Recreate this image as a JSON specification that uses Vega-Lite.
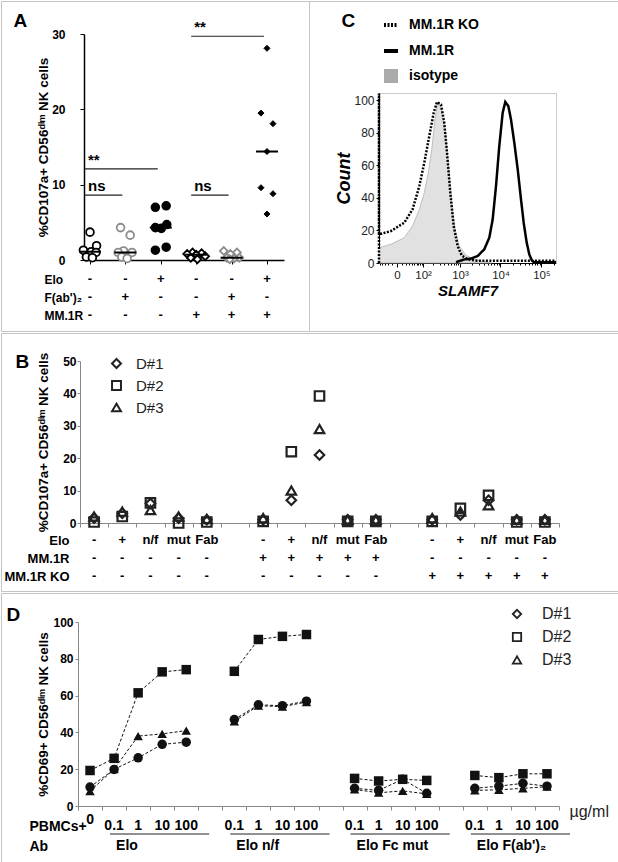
{
"$schema": "https://vega.github.io/schema/vega-lite/v6.json",
"background": "white",
"padding": 0,
"spacing": 0,
"bounds": "full",
"resolve": {"scale": {"shape": "independent", "fill": "independent", "stroke": "independent", "strokeDash": "independent"}, "legend": {"shape": "independent", "strokeDash": "independent"}},
"config": {
  "font": "Liberation Sans",
  "view": {"stroke": "#c4c4c4", "strokeWidth": 1},
  "axis": {"grid": false, "labelFont": "Liberation Sans", "titleFont": "Liberation Sans", "labelOverlap": false, "labelFlush": false, "labelColor": "black", "titleColor": "black"},
  "legend": {"labelFont": "Liberation Sans"},
  "concat": {"spacing": 0}
},
"datasets": {
  "A_pts": [
    {"grp":"1","val":3.7,"dodge":0},{"grp":"1","val":1.9,"dodge":1.1},{"grp":"1","val":1.3,"dodge":-1.1},{"grp":"1","val":1.1,"dodge":0.2},{"grp":"1","val":1.0,"dodge":1.0},{"grp":"1","val":0.4,"dodge":-0.6},{"grp":"1","val":0.3,"dodge":0.4},
    {"grp":"2","val":4.3,"dodge":-0.8},{"grp":"2","val":3.3,"dodge":0.8},{"grp":"2","val":1.2,"dodge":-0.3},{"grp":"2","val":1.0,"dodge":-1.2},{"grp":"2","val":1.0,"dodge":1.1},{"grp":"2","val":0.4,"dodge":-0.6},{"grp":"2","val":0.2,"dodge":0.3},
    {"grp":"3","val":7.0,"dodge":-0.9},{"grp":"3","val":7.2,"dodge":0.9},{"grp":"3","val":4.3,"dodge":-0.9},{"grp":"3","val":4.2,"dodge":0.1},{"grp":"3","val":4.7,"dodge":1.0},{"grp":"3","val":1.3,"dodge":-0.9},{"grp":"3","val":1.7,"dodge":0.9},
    {"grp":"4","val":1.0,"dodge":-0.6},{"grp":"4","val":0.9,"dodge":0.9},{"grp":"4","val":0.8,"dodge":-1.5},{"grp":"4","val":0.7,"dodge":0},{"grp":"4","val":0.5,"dodge":1.5},{"grp":"4","val":0.3,"dodge":-0.9},{"grp":"4","val":0.1,"dodge":0.2},
    {"grp":"5","val":1.2,"dodge":-1.3},{"grp":"5","val":1.0,"dodge":0.9},{"grp":"5","val":0.8,"dodge":-0.2},{"grp":"5","val":0.3,"dodge":1.3},{"grp":"5","val":0.3,"dodge":-0.8},{"grp":"5","val":0.2,"dodge":0.4},{"grp":"5","val":0.1,"dodge":-0.3}
  ],
  "A_g6": [
    {"grp":"6","val":28.1,"dodge":0},{"grp":"6","val":19.5,"dodge":-1},{"grp":"6","val":18.1,"dodge":1},{"grp":"6","val":14.4,"dodge":0},{"grp":"6","val":9.6,"dodge":-1},{"grp":"6","val":8.8,"dodge":1},{"grp":"6","val":6.1,"dodge":0}
  ],
  "A_med": [
    {"grp":"1","val":1.1},{"grp":"2","val":1.0},{"grp":"3","val":4.3},{"grp":"4","val":0.7},{"grp":"5","val":0.3},{"grp":"6","val":14.4}
  ],
  "A_sig": [
    {"from":"1","to":"3","y":12.1,"label":"**"},
    {"from":"1","to":"2","y":8.6,"label":"ns"},
    {"from":"4","to":"5","y":8.6,"label":"ns"},
    {"from":"4","to":"6","y":29.7,"label":"**"}
  ],
  "A_tab": [
    {"grp":"1","row":"Elo","sym":"-"},{"grp":"2","row":"Elo","sym":"-"},{"grp":"3","row":"Elo","sym":"+"},{"grp":"4","row":"Elo","sym":"-"},{"grp":"5","row":"Elo","sym":"-"},{"grp":"6","row":"Elo","sym":"+"},
    {"grp":"1","row":"F(ab')₂","sym":"-"},{"grp":"2","row":"F(ab')₂","sym":"+"},{"grp":"3","row":"F(ab')₂","sym":"-"},{"grp":"4","row":"F(ab')₂","sym":"-"},{"grp":"5","row":"F(ab')₂","sym":"+"},{"grp":"6","row":"F(ab')₂","sym":"-"},
    {"grp":"1","row":"MM.1R","sym":"-"},{"grp":"2","row":"MM.1R","sym":"-"},{"grp":"3","row":"MM.1R","sym":"-"},{"grp":"4","row":"MM.1R","sym":"+"},{"grp":"5","row":"MM.1R","sym":"+"},{"grp":"6","row":"MM.1R","sym":"+"}
  ],
  "C_iso": [
    {"series":"isotype","x":-52.4,"y":9.4},{"series":"isotype","x":-12,"y":11.5},{"series":"isotype","x":15,"y":15.5},{"series":"isotype","x":42,"y":22.7},{"series":"isotype","x":75,"y":32.9},{"series":"isotype","x":109,"y":43.1},{"series":"isotype","x":144,"y":55.4},{"series":"isotype","x":181,"y":69.7},{"series":"isotype","x":224,"y":88.1},{"series":"isotype","x":265,"y":98.3},{"series":"isotype","x":325,"y":95.3},{"series":"isotype","x":415,"y":82},{"series":"isotype","x":505,"y":61.5},{"series":"isotype","x":618,"y":37},{"series":"isotype","x":750,"y":20.7},{"series":"isotype","x":963,"y":10.4},{"series":"isotype","x":1416,"y":4.7},{"series":"isotype","x":2274,"y":2.2},{"series":"isotype","x":4017,"y":1},{"series":"isotype","x":6000,"y":0}
  ],
  "C_ko": [
    {"series":"MM.1R KO","ord":1,"x":-52.4,"y":0},{"series":"MM.1R KO","ord":2,"x":-52.4,"y":104},{"series":"MM.1R KO","ord":3,"x":-52.4,"y":17.6},{"series":"MM.1R KO","ord":4,"x":-12,"y":19.6},{"series":"MM.1R KO","ord":5,"x":15,"y":24.7},{"series":"MM.1R KO","ord":6,"x":42,"y":32.9},{"series":"MM.1R KO","ord":7,"x":75,"y":47.2},{"series":"MM.1R KO","ord":8,"x":109,"y":61.5},{"series":"MM.1R KO","ord":9,"x":154,"y":77.9},{"series":"MM.1R KO","ord":10,"x":206,"y":92.2},{"series":"MM.1R KO","ord":11,"x":254,"y":98.8},{"series":"MM.1R KO","ord":12,"x":325,"y":97.3},{"series":"MM.1R KO","ord":13,"x":397,"y":86},{"series":"MM.1R KO","ord":14,"x":468,"y":67.7},{"series":"MM.1R KO","ord":15,"x":569,"y":43.1},{"series":"MM.1R KO","ord":16,"x":694,"y":22.7},{"series":"MM.1R KO","ord":17,"x":876,"y":10.4},{"series":"MM.1R KO","ord":18,"x":1105,"y":4.7},{"series":"MM.1R KO","ord":19,"x":1560,"y":2.2},{"series":"MM.1R KO","ord":20,"x":2757,"y":1.4},{"series":"MM.1R KO","ord":21,"x":226500,"y":1.4}
  ],
  "C_mm": [
    {"series":"MM.1R","x":795,"y":0.5},{"series":"MM.1R","x":1283,"y":2.2},{"series":"MM.1R","x":1884,"y":2.7},{"series":"MM.1R","x":2757,"y":4.3},{"series":"MM.1R","x":4008,"y":8.4},{"series":"MM.1R","x":5316,"y":15.5},{"series":"MM.1R","x":6444,"y":26.8},{"series":"MM.1R","x":7770,"y":47.2},{"series":"MM.1R","x":9348,"y":71.8},{"series":"MM.1R","x":11322,"y":92.2},{"series":"MM.1R","x":13095,"y":98.8},{"series":"MM.1R","x":15534,"y":96.3},{"series":"MM.1R","x":18048,"y":88.1},{"series":"MM.1R","x":21753,"y":73.8},{"series":"MM.1R","x":26340,"y":57.5},{"series":"MM.1R","x":31680,"y":39.1},{"series":"MM.1R","x":36870,"y":24.7},{"series":"MM.1R","x":43650,"y":12.5},{"series":"MM.1R","x":50550,"y":5.3},{"series":"MM.1R","x":57810,"y":1.8},{"series":"MM.1R","x":65000,"y":0.5},{"series":"MM.1R","x":226500,"y":0.5}
  ],
  "B_pts": [
    {"slot":"s01","donor":"D#1","val":1.5},{"slot":"s01","donor":"D#2","val":0.3},{"slot":"s01","donor":"D#3","val":2.0},
    {"slot":"s02","donor":"D#1","val":3.0},{"slot":"s02","donor":"D#2","val":2.0},{"slot":"s02","donor":"D#3","val":3.5},
    {"slot":"s03","donor":"D#1","val":6.0},{"slot":"s03","donor":"D#2","val":6.2},{"slot":"s03","donor":"D#3","val":4.0},
    {"slot":"s04","donor":"D#1","val":1.5},{"slot":"s04","donor":"D#2","val":0.0},{"slot":"s04","donor":"D#3","val":2.0},
    {"slot":"s05","donor":"D#1","val":1.0},{"slot":"s05","donor":"D#2","val":0.3},{"slot":"s05","donor":"D#3","val":1.2},
    {"slot":"s07","donor":"D#1","val":1.0},{"slot":"s07","donor":"D#2","val":0.5},{"slot":"s07","donor":"D#3","val":1.5},
    {"slot":"s08","donor":"D#1","val":7.0},{"slot":"s08","donor":"D#2","val":22.0},{"slot":"s08","donor":"D#3","val":10.0},
    {"slot":"s09","donor":"D#1","val":21.0},{"slot":"s09","donor":"D#2","val":39.2},{"slot":"s09","donor":"D#3","val":29.0},
    {"slot":"s10","donor":"D#1","val":1.0},{"slot":"s10","donor":"D#2","val":0.5},{"slot":"s10","donor":"D#3","val":1.0},
    {"slot":"s11","donor":"D#1","val":1.0},{"slot":"s11","donor":"D#2","val":0.5},{"slot":"s11","donor":"D#3","val":1.0},
    {"slot":"s13","donor":"D#1","val":1.0},{"slot":"s13","donor":"D#2","val":0.5},{"slot":"s13","donor":"D#3","val":1.5},
    {"slot":"s14","donor":"D#1","val":2.5},{"slot":"s14","donor":"D#2","val":4.5},{"slot":"s14","donor":"D#3","val":3.5},
    {"slot":"s15","donor":"D#1","val":7.0},{"slot":"s15","donor":"D#2","val":8.5},{"slot":"s15","donor":"D#3","val":5.5},
    {"slot":"s16","donor":"D#1","val":1.0},{"slot":"s16","donor":"D#2","val":0.3},{"slot":"s16","donor":"D#3","val":1.0},
    {"slot":"s17","donor":"D#1","val":1.0},{"slot":"s17","donor":"D#2","val":0.3},{"slot":"s17","donor":"D#3","val":1.0}
  ],
  "B_tab": [
    {"slot":"s01","row":"Elo","sym":"-"},{"slot":"s02","row":"Elo","sym":"+"},{"slot":"s03","row":"Elo","sym":"n/f"},{"slot":"s04","row":"Elo","sym":"mut"},{"slot":"s05","row":"Elo","sym":"Fab"},
    {"slot":"s07","row":"Elo","sym":"-"},{"slot":"s08","row":"Elo","sym":"+"},{"slot":"s09","row":"Elo","sym":"n/f"},{"slot":"s10","row":"Elo","sym":"mut"},{"slot":"s11","row":"Elo","sym":"Fab"},
    {"slot":"s13","row":"Elo","sym":"-"},{"slot":"s14","row":"Elo","sym":"+"},{"slot":"s15","row":"Elo","sym":"n/f"},{"slot":"s16","row":"Elo","sym":"mut"},{"slot":"s17","row":"Elo","sym":"Fab"},
    {"slot":"s01","row":"MM.1R","sym":"-"},{"slot":"s02","row":"MM.1R","sym":"-"},{"slot":"s03","row":"MM.1R","sym":"-"},{"slot":"s04","row":"MM.1R","sym":"-"},{"slot":"s05","row":"MM.1R","sym":"-"},
    {"slot":"s07","row":"MM.1R","sym":"+"},{"slot":"s08","row":"MM.1R","sym":"+"},{"slot":"s09","row":"MM.1R","sym":"+"},{"slot":"s10","row":"MM.1R","sym":"+"},{"slot":"s11","row":"MM.1R","sym":"+"},
    {"slot":"s13","row":"MM.1R","sym":"-"},{"slot":"s14","row":"MM.1R","sym":"-"},{"slot":"s15","row":"MM.1R","sym":"-"},{"slot":"s16","row":"MM.1R","sym":"-"},{"slot":"s17","row":"MM.1R","sym":"-"},
    {"slot":"s01","row":"MM.1R KO","sym":"-"},{"slot":"s02","row":"MM.1R KO","sym":"-"},{"slot":"s03","row":"MM.1R KO","sym":"-"},{"slot":"s04","row":"MM.1R KO","sym":"-"},{"slot":"s05","row":"MM.1R KO","sym":"-"},
    {"slot":"s07","row":"MM.1R KO","sym":"-"},{"slot":"s08","row":"MM.1R KO","sym":"-"},{"slot":"s09","row":"MM.1R KO","sym":"-"},{"slot":"s10","row":"MM.1R KO","sym":"-"},{"slot":"s11","row":"MM.1R KO","sym":"-"},
    {"slot":"s13","row":"MM.1R KO","sym":"+"},{"slot":"s14","row":"MM.1R KO","sym":"+"},{"slot":"s15","row":"MM.1R KO","sym":"+"},{"slot":"s16","row":"MM.1R KO","sym":"+"},{"slot":"s17","row":"MM.1R KO","sym":"+"}
  ],
  "D_pts": [
    {"slot":"s00","seg":"Elo","donor":"D#1","val":10.3},{"slot":"s00","seg":"Elo","donor":"D#2","val":19.3},{"slot":"s00","seg":"Elo","donor":"D#3","val":8.1},
    {"slot":"s01","seg":"Elo","donor":"D#1","val":19.9},{"slot":"s01","seg":"Elo","donor":"D#2","val":25.9},{"slot":"s01","seg":"Elo","donor":"D#3","val":20.0},
    {"slot":"s02","seg":"Elo","donor":"D#1","val":26.2},{"slot":"s02","seg":"Elo","donor":"D#2","val":61.5},{"slot":"s02","seg":"Elo","donor":"D#3","val":38.0},
    {"slot":"s03","seg":"Elo","donor":"D#1","val":33.5},{"slot":"s03","seg":"Elo","donor":"D#2","val":72.9},{"slot":"s03","seg":"Elo","donor":"D#3","val":39.2},
    {"slot":"s04","seg":"Elo","donor":"D#1","val":34.7},{"slot":"s04","seg":"Elo","donor":"D#2","val":74.1},{"slot":"s04","seg":"Elo","donor":"D#3","val":41.0},
    {"slot":"s06","seg":"nf","donor":"D#1","val":47.0},{"slot":"s06","seg":"nf","donor":"D#2","val":73.2},{"slot":"s06","seg":"nf","donor":"D#3","val":46.0},
    {"slot":"s07","seg":"nf","donor":"D#1","val":55.0},{"slot":"s07","seg":"nf","donor":"D#2","val":90.5},{"slot":"s07","seg":"nf","donor":"D#3","val":54.5},
    {"slot":"s08","seg":"nf","donor":"D#1","val":54.5},{"slot":"s08","seg":"nf","donor":"D#2","val":92.2},{"slot":"s08","seg":"nf","donor":"D#3","val":54.0},
    {"slot":"s09","seg":"nf","donor":"D#1","val":57.0},{"slot":"s09","seg":"nf","donor":"D#2","val":93.2},{"slot":"s09","seg":"nf","donor":"D#3","val":56.5},
    {"slot":"s11","seg":"fc","donor":"D#1","val":9.6},{"slot":"s11","seg":"fc","donor":"D#2","val":15.0},{"slot":"s11","seg":"fc","donor":"D#3","val":9.0},
    {"slot":"s12","seg":"fc","donor":"D#1","val":8.5},{"slot":"s12","seg":"fc","donor":"D#2","val":13.6},{"slot":"s12","seg":"fc","donor":"D#3","val":7.2},
    {"slot":"s13","seg":"fc","donor":"D#1","val":14.5},{"slot":"s13","seg":"fc","donor":"D#2","val":14.5},{"slot":"s13","seg":"fc","donor":"D#3","val":8.2},
    {"slot":"s14","seg":"fc","donor":"D#1","val":6.9},{"slot":"s14","seg":"fc","donor":"D#2","val":13.9},{"slot":"s14","seg":"fc","donor":"D#3","val":6.6},
    {"slot":"s16","seg":"fab","donor":"D#1","val":9.6},{"slot":"s16","seg":"fab","donor":"D#2","val":16.6},{"slot":"s16","seg":"fab","donor":"D#3","val":8.5},
    {"slot":"s17","seg":"fab","donor":"D#1","val":10.8},{"slot":"s17","seg":"fab","donor":"D#2","val":15.4},{"slot":"s17","seg":"fab","donor":"D#3","val":8.8},
    {"slot":"s18","seg":"fab","donor":"D#1","val":12.3},{"slot":"s18","seg":"fab","donor":"D#2","val":17.5},{"slot":"s18","seg":"fab","donor":"D#3","val":9.6},
    {"slot":"s19","seg":"fab","donor":"D#1","val":10.8},{"slot":"s19","seg":"fab","donor":"D#2","val":17.5},{"slot":"s19","seg":"fab","donor":"D#3","val":10.5}
  ],
  "D_conc": [
    {"slot":"s01","row":"PBMCs+","label":"0.1"},{"slot":"s02","row":"PBMCs+","label":"1"},{"slot":"s03","row":"PBMCs+","label":"10"},{"slot":"s04","row":"PBMCs+","label":"100"},
    {"slot":"s06","row":"PBMCs+","label":"0.1"},{"slot":"s07","row":"PBMCs+","label":"1"},{"slot":"s08","row":"PBMCs+","label":"10"},{"slot":"s09","row":"PBMCs+","label":"100"},
    {"slot":"s11","row":"PBMCs+","label":"0.1"},{"slot":"s12","row":"PBMCs+","label":"1"},{"slot":"s13","row":"PBMCs+","label":"10"},{"slot":"s14","row":"PBMCs+","label":"100"},
    {"slot":"s16","row":"PBMCs+","label":"0.1"},{"slot":"s17","row":"PBMCs+","label":"1"},{"slot":"s18","row":"PBMCs+","label":"10"},{"slot":"s19","row":"PBMCs+","label":"100"}
  ],
  "D_zero": [{"slot":"s00","row":"PBMCs+","label":"0"}],
  "D_grp": [
    {"from":"s01","to":"s04","row":"Ab","label":"Elo"},
    {"from":"s06","to":"s09","row":"Ab","label":"Elo n/f"},
    {"from":"s11","to":"s14","row":"Ab","label":"Elo Fc mut"},
    {"from":"s16","to":"s19","row":"Ab","label":"Elo F(ab')₂"}
  ]
},
"vconcat": [
{
"hconcat": [
{
  "width": 308, "height": 330,
  "resolve": {"scale": {"y": "independent"}},
  "layer": [
    {
      "data": {"name": "A_pts"},
      "mark": {"type": "point", "filled": true, "opacity": 1, "strokeWidth": 1.8, "size": 60},
      "encoding": {
        "x": {"field": "grp", "type": "nominal", "scale": {"type": "point", "domain": ["1","2","3","4","5","6"], "range": [83, 283], "padding": 0.325, "align": 0.26},
              "axis": {"orient": "bottom", "offset": -71, "labels": false, "ticks": true, "tickSize": 4, "domainColor": "black", "tickColor": "black", "domainWidth": 1.5, "title": null}},
        "xOffset": {"field": "dodge", "type": "quantitative", "scale": {"domain": [-1, 1], "range": [-6, 6]}},
        "y": {"field": "val", "type": "quantitative", "scale": {"domain": [0, 30], "range": [259, 33], "nice": false, "zero": false},
              "axis": {"orient": "left", "offset": -83, "values": [0, 10, 20, 30], "tickSize": 4, "labelPadding": 15, "labelFontSize": 12, "labelFontWeight": "bold", "domainColor": "black", "tickColor": "black", "domainWidth": 1.5,
                       "title": "%CD107a+ CD56ᵈⁱᵐ NK cells", "titleFontSize": 13.5, "titleFontWeight": "bold", "titleX": -41, "titleBaseline": "middle"}},
        "shape": {"field": "grp", "type": "nominal", "scale": {"domain": ["1","2","3","4","5","6"], "range": ["circle","circle","circle","diamond","diamond","diamond"]}, "legend": null},
        "stroke": {"field": "grp", "type": "nominal", "scale": {"domain": ["1","2","3","4","5","6"], "range": ["#000000","#8c8c8c","#000000","#000000","#8c8c8c","#000000"]}, "legend": null},
        "fill": {"field": "grp", "type": "nominal", "scale": {"domain": ["1","2","3","4","5","6"], "range": ["#ffffff","#ffffff","#000000","#ffffff","#ffffff","#000000"]}, "legend": null}
      }
    },
    {
      "data": {"name": "A_g6"},
      "mark": {"type": "point", "filled": true, "opacity": 1, "strokeWidth": 1, "size": 36},
      "encoding": {
        "x": {"field": "grp", "type": "nominal", "scale": {"type": "point", "domain": ["1","2","3","4","5","6"], "range": [83, 283], "padding": 0.325, "align": 0.26}, "axis": null},
        "xOffset": {"field": "dodge", "type": "quantitative", "scale": {"domain": [-1, 1], "range": [-6, 6]}},
        "y": {"field": "val", "type": "quantitative", "scale": {"domain": [0, 30], "range": [259, 33], "nice": false, "zero": false}, "axis": null},
        "shape": {"field": "grp", "type": "nominal", "scale": {"domain": ["1","2","3","4","5","6"], "range": ["circle","circle","circle","diamond","diamond","diamond"]}, "legend": null},
        "stroke": {"field": "grp", "type": "nominal", "scale": {"domain": ["1","2","3","4","5","6"], "range": ["#000000","#8c8c8c","#000000","#000000","#8c8c8c","#000000"]}, "legend": null},
        "fill": {"field": "grp", "type": "nominal", "scale": {"domain": ["1","2","3","4","5","6"], "range": ["#ffffff","#ffffff","#000000","#ffffff","#ffffff","#000000"]}, "legend": null}
      }
    },
    {
      "data": {"name": "A_med"},
      "mark": {"type": "tick", "color": "black", "thickness": 2, "size": 22, "opacity": 1},
      "encoding": {
        "x": {"field": "grp", "type": "nominal", "scale": {"type": "point", "domain": ["1","2","3","4","5","6"], "range": [83, 283], "padding": 0.325, "align": 0.26}, "axis": null},
        "y": {"field": "val", "type": "quantitative", "scale": {"domain": [0, 30], "range": [259, 33], "nice": false, "zero": false}, "axis": null}
      }
    },
    {
      "data": {"name": "A_sig"},
      "mark": {"type": "rule", "color": "#222222", "strokeWidth": 1.2, "xOffset": -5, "x2Offset": -3},
      "encoding": {
        "x": {"field": "from", "type": "nominal", "scale": {"type": "point", "domain": ["1","2","3","4","5","6"], "range": [83, 283], "padding": 0.325, "align": 0.26}, "axis": null},
        "x2": {"field": "to"},
        "y": {"field": "y", "type": "quantitative", "scale": {"domain": [0, 30], "range": [259, 33], "nice": false, "zero": false}, "axis": null}
      }
    },
    {
      "data": {"name": "A_sig"},
      "mark": {"type": "text", "align": "left", "baseline": "alphabetic", "dx": -2, "dy": -4, "fontSize": 15, "fontWeight": "bold", "color": "black"},
      "encoding": {
        "x": {"field": "from", "type": "nominal", "scale": {"type": "point", "domain": ["1","2","3","4","5","6"], "range": [83, 283], "padding": 0.325, "align": 0.26}, "axis": null},
        "y": {"field": "y", "type": "quantitative", "scale": {"domain": [0, 30], "range": [259, 33], "nice": false, "zero": false}, "axis": null},
        "text": {"field": "label"}
      }
    },
    {
      "data": {"name": "A_tab"},
      "mark": {"type": "text", "fontSize": 13, "fontWeight": "bold", "color": "black", "baseline": "middle", "align": "center"},
      "encoding": {
        "x": {"field": "grp", "type": "nominal", "scale": {"type": "point", "domain": ["1","2","3","4","5","6"], "range": [83, 283], "padding": 0.325, "align": 0.26},
              "axis": {"orient": "top", "offset": 0, "labels": false, "ticks": false, "domain": false, "title": "A", "titleX": 12, "titleY": 25, "titleAlign": "left", "titleAnchor": "start", "titleBaseline": "alphabetic", "titleFontSize": 19, "titleFontWeight": "bold", "titleColor": "black"}},
        "y": {"field": "row", "type": "nominal", "scale": {"type": "point", "domain": ["Elo", "F(ab')₂", "MM.1R"], "range": [278, 314], "padding": 0},
              "axis": {"orient": "left", "offset": -43, "labelAlign": "left", "labelPadding": 0, "ticks": false, "tickSize": 0, "domain": false, "title": null, "labelFontSize": 12, "labelFontWeight": "bold", "labelBaseline": "middle"}},
        "text": {"field": "sym"}
      }
    }
  ]
},
{
  "width": 310, "height": 330,
  "resolve": {"axis": {"x": "independent", "y": "independent"}},
  "layer": [
    {
      "data": {"name": "C_iso"},
      "mark": {"type": "area", "fill": "#e1e1e1", "stroke": "#b3b3b3", "strokeWidth": 0.8, "opacity": 1},
      "encoding": {
        "x": {"field": "x", "type": "quantitative", "scale": {"type": "symlog", "constant": 30, "domain": [-52.4, 226500], "range": [70, 247], "nice": false, "zero": false},
              "axis": {"orient": "bottom", "offset": -68, "values": [0, 100, 1000, 10000, 100000],
                       "labelExpr": "datum.value == 0 ? '0' : datum.value == 100 ? '10²' : datum.value == 1000 ? '10³' : datum.value == 10000 ? '10⁴' : '10⁵'",
                       "tickSize": 4, "labelPadding": 2, "labelFontSize": 11.5, "labelColor": "#222222", "domainColor": "black", "tickColor": "black",
                       "title": "SLAMF7", "titleFontStyle": "italic", "titleFontWeight": "bold", "titleFontSize": 15, "titleY": 27, "titleBaseline": "middle"}},
        "y": {"field": "y", "type": "quantitative", "scale": {"domain": [0, 104.3], "range": [262, 92], "nice": false, "zero": false},
              "axis": {"orient": "left", "offset": -70, "values": [0, 20, 40, 60, 80, 100], "tickSize": 3, "labelPadding": 2, "labelFontSize": 12, "labelColor": "#222222", "domainColor": "black", "tickColor": "black",
                       "title": "Count", "titleFontSize": 18, "titleFontWeight": "bold", "titleFontStyle": "italic", "titleX": -35, "titleBaseline": "middle"}}
      }
    },
    {
      "data": {"name": "C_ko"},
      "mark": {"type": "line", "color": "black", "strokeWidth": 2.5, "interpolate": "linear"},
      "encoding": {
        "x": {"field": "x", "type": "quantitative", "scale": {"type": "symlog", "constant": 30, "domain": [-52.4, 226500], "range": [70, 247], "nice": false, "zero": false},
              "axis": {"orient": "bottom", "offset": -68, "values": [-50,-40,-30,-20,-10,10,20,30,40,50,60,70,80,90,200,300,400,500,600,700,800,900,2000,3000,4000,5000,6000,7000,8000,9000,20000,30000,40000,50000,60000,70000,80000,90000,200000], "labels": false, "tickSize": 2, "domain": false, "tickColor": "black", "title": null}},
        "y": {"field": "y", "type": "quantitative", "scale": {"domain": [0, 104.3], "range": [262, 92], "nice": false, "zero": false},
              "axis": {"orient": "right", "offset": -63, "ticks": false, "labels": false, "domainColor": "#cccccc", "title": null}},
        "order": {"field": "ord", "type": "quantitative"},
        "strokeDash": {"field": "series", "type": "nominal", "scale": {"domain": ["MM.1R KO", "MM.1R", "isotype"], "range": [[2, 1.5], [1, 0], [1, 0]]},
          "legend": {"orient": "none", "legendX": 75, "legendY": 17, "title": null, "padding": 0, "symbolType": "stroke", "symbolSize": 196, "symbolStrokeWidth": 4, "symbolStrokeColor": "black",
                     "labelFontSize": 14, "labelFontWeight": "bold", "labelColor": "black", "labelOffset": 11, "rowPadding": 10,
                     "encode": {"symbols": {"update": {
                        "shape": {"signal": "datum.value === 'isotype' ? 'square' : 'stroke'"},
                        "fill": {"signal": "datum.value === 'isotype' ? '#aaaaaa' : 'transparent'"},
                        "stroke": {"signal": "datum.value === 'isotype' ? '#aaaaaa' : 'black'"},
                        "strokeWidth": {"signal": "datum.value === 'isotype' ? 0 : 4"}}}}}}
      }
    },
    {
      "data": {"name": "C_mm"},
      "mark": {"type": "line", "color": "black", "strokeWidth": 2.5, "interpolate": "linear"},
      "encoding": {
        "x": {"field": "x", "type": "quantitative", "scale": {"type": "symlog", "constant": 30, "domain": [-52.4, 226500], "range": [70, 247], "nice": false, "zero": false},
              "axis": {"orient": "top", "offset": -92, "ticks": false, "labels": false, "domainColor": "#cccccc",
                       "title": "C", "titleX": 32, "titleY": -67, "titleAlign": "left", "titleAnchor": "start", "titleBaseline": "alphabetic", "titleFontSize": 19, "titleFontWeight": "bold", "titleColor": "black"}},
        "y": {"field": "y", "type": "quantitative", "scale": {"domain": [0, 104.3], "range": [262, 92], "nice": false, "zero": false}, "axis": null},
        "strokeDash": {"field": "series", "type": "nominal", "scale": {"domain": ["MM.1R KO", "MM.1R", "isotype"], "range": [[2, 1.5], [1, 0], [1, 0]]}}
      }
    }
  ]
}
],
"spacing": 0,
"bounds": "flush",
"resolve": {"scale": {"shape": "independent", "fill": "independent", "stroke": "independent", "strokeDash": "independent"}, "legend": {"shape": "independent", "strokeDash": "independent"}}
},
{
  "width": 618, "height": 258,
  "resolve": {"scale": {"y": "independent"}},
  "layer": [
    {
      "data": {"name": "B_pts"},
      "mark": {"type": "point", "filled": false, "opacity": 1, "stroke": "#222222", "strokeWidth": 2.2, "size": 90},
      "encoding": {
        "x": {"field": "slot", "type": "nominal", "scale": {"type": "band", "domain": ["s01","s02","s03","s04","s05","s06","s07","s08","s09","s10","s11","s12","s13","s14","s15","s16","s17"], "range": [79, 558], "paddingInner": 0, "paddingOuter": 0},
              "axis": {"orient": "bottom", "offset": -68, "labels": false, "tickBand": "extent", "tickSize": 4, "domainColor": "#888888", "tickColor": "#888888", "title": null}},
        "y": {"field": "val", "type": "quantitative", "scale": {"domain": [0, 50], "range": [190, 28], "nice": false, "zero": false},
              "axis": {"orient": "left", "offset": -79, "values": [0, 10, 20, 30, 40, 50], "tickSize": 3, "labelPadding": 1, "labelFontSize": 12, "labelFontWeight": "bold", "domainColor": "#888888", "tickColor": "#888888",
                       "title": "%CD107a+ CD56ᵈⁱᵐ NK cells", "titleFontSize": 13.5, "titleFontWeight": "bold", "titleX": -37, "titleBaseline": "middle"}},
        "shape": {"field": "donor", "type": "nominal", "scale": {"domain": ["D#1", "D#2", "D#3"], "range": ["diamond", "square", "triangle-up"]},
          "legend": {"orient": "none", "legendX": 108, "legendY": 23, "title": null, "padding": 0, "symbolSize": 80, "symbolStrokeColor": "#222222", "symbolStrokeWidth": 2,
                     "labelFontSize": 15, "labelColor": "#222222", "labelOffset": 12, "rowPadding": 5}}
      }
    },
    {
      "data": {"name": "B_tab"},
      "mark": {"type": "text", "fontSize": 13, "fontWeight": "bold", "color": "black", "baseline": "middle", "align": "center"},
      "encoding": {
        "x": {"field": "slot", "type": "nominal", "scale": {"type": "band", "domain": ["s01","s02","s03","s04","s05","s06","s07","s08","s09","s10","s11","s12","s13","s14","s15","s16","s17"], "range": [79, 558], "paddingInner": 0, "paddingOuter": 0},
              "axis": {"orient": "top", "offset": 0, "labels": false, "ticks": false, "domain": false, "title": "B", "titleX": 14, "titleY": 34, "titleAlign": "left", "titleAnchor": "start", "titleBaseline": "alphabetic", "titleFontSize": 19, "titleFontWeight": "bold", "titleColor": "black"}},
        "y": {"field": "row", "type": "nominal", "scale": {"type": "point", "domain": ["Elo", "MM.1R", "MM.1R KO"], "range": [207, 243], "padding": 0},
              "axis": {"orient": "left", "offset": -68, "labelAlign": "right", "labelPadding": 0, "ticks": false, "tickSize": 0, "domain": false, "title": null, "labelFontSize": 13, "labelFontWeight": "bold", "labelBaseline": "middle"}},
        "text": {"field": "sym"}
      }
    }
  ]
},
{
  "width": 618, "height": 271,
  "resolve": {"scale": {"y": "independent", "shape": "independent"}, "legend": {"shape": "independent"}},
  "layer": [
    {
      "data": {"name": "D_pts"},
      "mark": {"type": "line", "color": "#111111", "strokeWidth": 1, "strokeDash": [3, 2]},
      "encoding": {
        "x": {"field": "slot", "type": "nominal", "scale": {"type": "band", "domain": ["s00","s01","s02","s03","s04","s05","s06","s07","s08","s09","s10","s11","s12","s13","s14","s15","s16","s17","s18","s19"], "range": [77, 558], "paddingInner": 0, "paddingOuter": 0},
              "axis": {"orient": "bottom", "offset": -58, "labels": false, "tickBand": "extent", "tickSize": 4, "domainColor": "#888888", "tickColor": "#888888",
                       "title": "µg/ml", "titleX": 568, "titleY": 5, "titleAlign": "left", "titleAnchor": "start", "titleBaseline": "middle", "titleFontSize": 16, "titleFontWeight": "normal", "titleColor": "#222222"}},
        "y": {"field": "val", "type": "quantitative", "scale": {"domain": [0, 100], "range": [213, 29], "nice": false, "zero": false},
              "axis": {"orient": "left", "offset": -77, "values": [0, 20, 40, 60, 80, 100], "tickSize": 3, "labelPadding": 2, "labelFontSize": 12, "labelFontWeight": "bold", "domainColor": "#888888", "tickColor": "#888888",
                       "title": "%CD69+ CD56ᵈⁱᵐ NK cells", "titleFontSize": 13.5, "titleFontWeight": "bold", "titleX": -35, "titleBaseline": "middle"}},
        "detail": [{"field": "donor", "type": "nominal"}, {"field": "seg", "type": "nominal"}]
      }
    },
    {
      "data": {"name": "D_pts"},
      "mark": {"type": "point", "filled": true, "opacity": 1, "color": "#111111", "size": 90},
      "encoding": {
        "x": {"field": "slot", "type": "nominal", "scale": {"type": "band", "domain": ["s00","s01","s02","s03","s04","s05","s06","s07","s08","s09","s10","s11","s12","s13","s14","s15","s16","s17","s18","s19"], "range": [77, 558], "paddingInner": 0, "paddingOuter": 0}, "axis": null},
        "y": {"field": "val", "type": "quantitative", "scale": {"domain": [0, 100], "range": [213, 29], "nice": false, "zero": false}, "axis": null},
        "shape": {"field": "donor", "type": "nominal", "scale": {"domain": ["D#1", "D#2", "D#3"], "range": ["circle", "square", "triangle-up"]}, "legend": null}
      }
    },
    {
      "data": {"name": "D_pts"},
      "transform": [{"filter": "false"}],
      "mark": {"type": "point", "filled": false, "opacity": 1, "color": "#222222", "strokeWidth": 1.8, "size": 70},
      "encoding": {
        "x": {"field": "slot", "type": "nominal", "scale": {"type": "band", "domain": ["s00","s01","s02","s03","s04","s05","s06","s07","s08","s09","s10","s11","s12","s13","s14","s15","s16","s17","s18","s19"], "range": [77, 558], "paddingInner": 0, "paddingOuter": 0}, "axis": null},
        "y": {"field": "val", "type": "quantitative", "scale": {"domain": [0, 100], "range": [213, 29], "nice": false, "zero": false}, "axis": null},
        "shape": {"field": "donor", "type": "nominal", "scale": {"domain": ["D#1", "D#2", "D#3"], "range": ["diamond", "square", "triangle-up"]},
          "legend": {"orient": "none", "legendX": 508, "legendY": 13, "title": null, "padding": 0, "symbolSize": 70, "symbolStrokeWidth": 1.8,
                     "labelFontSize": 16, "labelColor": "#222222", "labelOffset": 17, "rowPadding": 7}}
      }
    },
    {
      "data": {"name": "D_conc"},
      "mark": {"type": "text", "fontSize": 14, "fontWeight": "bold", "color": "black", "baseline": "middle", "align": "center"},
      "encoding": {
        "x": {"field": "slot", "type": "nominal", "scale": {"type": "band", "domain": ["s00","s01","s02","s03","s04","s05","s06","s07","s08","s09","s10","s11","s12","s13","s14","s15","s16","s17","s18","s19"], "range": [77, 558], "paddingInner": 0, "paddingOuter": 0},
              "axis": {"orient": "top", "offset": 0, "labels": false, "ticks": false, "domain": false, "title": "D", "titleX": 5, "titleY": 27, "titleAlign": "left", "titleAnchor": "start", "titleBaseline": "alphabetic", "titleFontSize": 19, "titleFontWeight": "bold", "titleColor": "black"}},
        "y": {"field": "row", "type": "nominal", "scale": {"type": "point", "domain": ["PBMCs+", "Ab"], "range": [233, 253], "padding": 0},
              "axis": {"orient": "left", "offset": -28, "labelAlign": "left", "labelPadding": 0, "ticks": false, "tickSize": 0, "domain": false, "title": null, "labelFontSize": 14, "labelFontWeight": "bold", "labelBaseline": "middle"}},
        "text": {"field": "label"}
      }
    },
    {
      "data": {"name": "D_zero"},
      "mark": {"type": "text", "fontSize": 14, "fontWeight": "bold", "color": "black", "baseline": "middle", "align": "center", "dy": -6},
      "encoding": {
        "x": {"field": "slot", "type": "nominal", "scale": {"type": "band", "domain": ["s00","s01","s02","s03","s04","s05","s06","s07","s08","s09","s10","s11","s12","s13","s14","s15","s16","s17","s18","s19"], "range": [77, 558], "paddingInner": 0, "paddingOuter": 0}, "axis": null},
        "y": {"field": "row", "type": "nominal", "scale": {"type": "point", "domain": ["PBMCs+", "Ab"], "range": [233, 253], "padding": 0}, "axis": null},
        "text": {"field": "label"}
      }
    },
    {
      "data": {"name": "D_grp"},
      "mark": {"type": "rule", "color": "#222222", "strokeWidth": 1, "yOffset": -12, "xOffset": -4, "x2Offset": 23},
      "encoding": {
        "x": {"field": "from", "type": "nominal", "scale": {"type": "band", "domain": ["s00","s01","s02","s03","s04","s05","s06","s07","s08","s09","s10","s11","s12","s13","s14","s15","s16","s17","s18","s19"], "range": [77, 558], "paddingInner": 0, "paddingOuter": 0}, "axis": null},
        "x2": {"field": "to"},
        "y": {"field": "row", "type": "nominal", "scale": {"type": "point", "domain": ["PBMCs+", "Ab"], "range": [233, 253], "padding": 0}, "axis": null}
      }
    },
    {
      "data": {"name": "D_grp"},
      "mark": {"type": "text", "fontSize": 14, "fontWeight": "bold", "color": "black", "baseline": "middle", "align": "left", "dx": 2},
      "encoding": {
        "x": {"field": "from", "type": "nominal", "scale": {"type": "band", "domain": ["s00","s01","s02","s03","s04","s05","s06","s07","s08","s09","s10","s11","s12","s13","s14","s15","s16","s17","s18","s19"], "range": [77, 558], "paddingInner": 0, "paddingOuter": 0}, "axis": null},
        "y": {"field": "row", "type": "nominal", "scale": {"type": "point", "domain": ["PBMCs+", "Ab"], "range": [233, 253], "padding": 0}, "axis": null},
        "text": {"field": "label"}
      }
    }
  ]
}
]
}
